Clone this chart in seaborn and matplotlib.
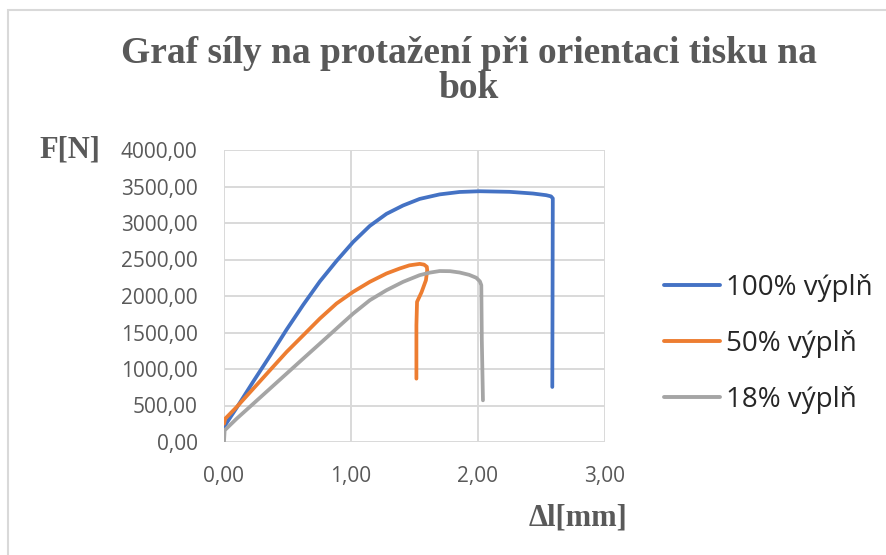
import numpy as np
import pandas as pd
import seaborn as sns
import matplotlib.pyplot as plt
from matplotlib.patches import Rectangle
from matplotlib.ticker import FuncFormatter

# Elongation [mm] and force [N] for each infill level
x_100 = [0.00, 0.10, 0.231, 0.362, 0.493, 0.624, 0.755, 0.886, 1.017, 1.148, 1.279, 1.41,
         1.541, 1.698, 1.855, 2.013, 2.249, 2.432, 2.537, 2.575, 2.589, 2.587, 2.585]
y_100 = [206, 470, 830, 1180, 1540, 1880, 2200, 2480, 2740, 2960, 3125, 3240,
         3330, 3392, 3425, 3435, 3427, 3404, 3381, 3365, 3337, 2000, 754]

x_50 = [0.00, 0.01, 0.10, 0.231, 0.362, 0.493, 0.624, 0.755, 0.886, 1.017, 1.148, 1.279,
        1.384, 1.46, 1.541, 1.575, 1.597, 1.60, 1.59, 1.555, 1.52, 1.515, 1.515]
y_50 = [250, 320, 480, 731, 983, 1234, 1462, 1691, 1897, 2057, 2194, 2308,
        2377, 2420, 2440, 2430, 2400, 2354, 2216, 2050, 1920, 1600, 868]

x_18 = [0.00, 0.005, 0.10, 0.231, 0.362, 0.493, 0.624, 0.755, 0.886, 1.017, 1.148, 1.279,
        1.41, 1.54, 1.62, 1.698, 1.78, 1.855, 1.93, 1.986, 2.015, 2.026, 2.03, 2.039]
y_18 = [0, 160, 320, 525, 731, 937, 1143, 1348, 1554, 1759, 1942, 2079,
        2194, 2285, 2320, 2342, 2340, 2322, 2290, 2250, 2200, 2148, 1400, 571]

series = ["100% výplň", "50% výplň", "18% výplň"]
colors = ["#4472C4", "#ED7D31", "#A5A5A5"]

x_ticks = [0, 1, 2, 3]
y_ticks = [0, 500, 1000, 1500, 2000, 2500, 3000, 3500, 4000]

frames = []
for name, xs, ys in zip(series, [x_100, x_50, x_18], [y_100, y_50, y_18]):
    frames.append(pd.DataFrame({"dl": xs, "F": ys, "serie": name}))
df = pd.concat(frames, ignore_index=True)

sns.set_theme(style="white")
plt.rcParams["font.family"] = ["Open Sans", "DejaVu Sans"]

fig = plt.figure(figsize=(8.87, 5.55), dpi=100)
ax = fig.add_axes([224 / 887, 1 - 442 / 555, (605 - 224) / 887, (442 - 150) / 555])

sns.lineplot(data=df, x="dl", y="F", hue="serie", hue_order=series, palette=colors,
             sort=False, estimator=None, linewidth=2.7, ax=ax, legend=False,
             solid_capstyle="round", solid_joinstyle="round")

ax.set_xlim(0, 3)
ax.set_ylim(0, 4000)
ax.set_xticks(x_ticks)
ax.set_yticks(y_ticks)
fmt = FuncFormatter(lambda v, p: f"{v:.2f}".replace(".", ","))
ax.xaxis.set_major_formatter(fmt)
ax.yaxis.set_major_formatter(fmt)
ax.tick_params(axis="both", length=0, labelsize=15, labelcolor="#595959")
ax.tick_params(axis="y", pad=19)
ax.tick_params(axis="x", pad=17)
ax.grid(True, color="#D9D9D9", linewidth=1.4)
for s in ax.spines.values():
    s.set_visible(False)
ax.set_xlabel("")
ax.set_ylabel("")

serif = ["Liberation Serif", "DejaVu Serif"]
fig.text(469 / 887, 1 - 63 / 555, "Graf síly na protažení při orientaci tisku na",
         ha="center", va="baseline", fontsize=27, fontweight="bold", color="#595959", family=serif)
fig.text(469 / 887, 1 - 98 / 555, "bok",
         ha="center", va="baseline", fontsize=27, fontweight="bold", color="#595959", family=serif)
fig.text(70 / 887, 1 - 150 / 555, "F[N]", ha="center", va="center", fontsize=22,
         fontweight="bold", color="#595959", family=serif)
fig.text(578 / 887, 1 - 518 / 555, "Δl[mm]", ha="center", va="center", fontsize=22,
         fontweight="bold", color="#595959", family=serif)

handles = [plt.Line2D([], [], color=c, linewidth=2.8, solid_capstyle="round") for c in colors]
fig.legend(handles, series, loc="center left", bbox_to_anchor=(664 / 887, 1 - 344 / 555),
           frameon=False, fontsize=20, handlelength=2.0, handletextpad=0.25,
           labelspacing=1.0, borderaxespad=0, borderpad=0)

fig.patches.append(Rectangle((8 / 887, -0.1), 1.2, 1 - 10 / 555 + 0.1, transform=fig.transFigure,
                             fill=False, edgecolor="#D9D9D9", linewidth=1.5))

fig.savefig("out.png", dpi=100, facecolor="white")
